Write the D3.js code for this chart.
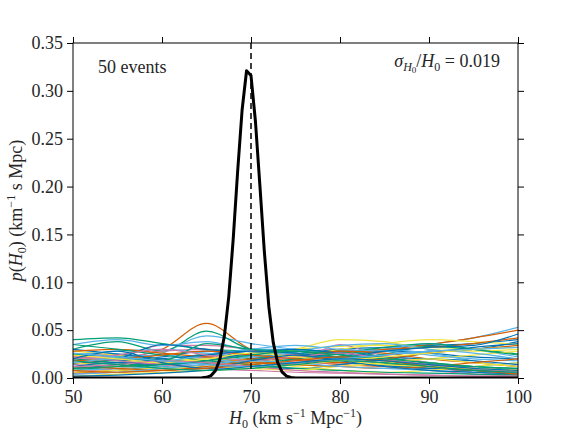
<!DOCTYPE html>
<html><head><meta charset="utf-8">
<script src="https://cdn.jsdelivr.net/npm/d3@7"></script>
<style>body{margin:0;background:#fff}svg{display:block}text{font-family:"Liberation Serif","DejaVu Serif",serif;fill:#262626}</style>
</head><body><svg id="c" width="576" height="432"></svg>
<script>
const xGrid = [50,55,60,65,70,75,80,85,90,95,100];
const palette = ["#0072B2","#009E73","#D55E00","#CC79A7","#F0E442","#56B4E9"];
const eventCurves = [
[0.020,0.025,0.018,0.022,0.030,0.026,0.020,0.024,0.028,0.030,0.038],
[0.040,0.042,0.036,0.030,0.028,0.022,0.018,0.020,0.016,0.012,0.008],
[0.015,0.020,0.030,0.057,0.030,0.022,0.018,0.015,0.012,0.010,0.006],
[0.025,0.024,0.034,0.034,0.030,0.028,0.030,0.024,0.016,0.010,0.005],
[0.008,0.012,0.015,0.020,0.025,0.030,0.033,0.034,0.032,0.030,0.025],
[0.012,0.016,0.026,0.044,0.036,0.030,0.028,0.030,0.035,0.042,0.053],
[0.005,0.008,0.012,0.018,0.020,0.025,0.030,0.032,0.034,0.036,0.040],
[0.030,0.038,0.028,0.049,0.030,0.026,0.020,0.025,0.033,0.030,0.025],
[0.010,0.012,0.015,0.018,0.020,0.025,0.028,0.030,0.035,0.042,0.050],
[0.018,0.020,0.028,0.030,0.022,0.018,0.035,0.020,0.012,0.006,0.003],
[0.020,0.018,0.015,0.012,0.015,0.022,0.030,0.036,0.040,0.038,0.035],
[0.035,0.040,0.034,0.038,0.030,0.030,0.025,0.030,0.036,0.030,0.022],
[0.025,0.018,0.022,0.028,0.020,0.015,0.022,0.028,0.026,0.022,0.020],
[0.012,0.008,0.015,0.025,0.020,0.030,0.025,0.015,0.010,0.008,0.005],
[0.022,0.020,0.018,0.016,0.020,0.018,0.014,0.012,0.010,0.008,0.006],
[0.006,0.010,0.016,0.022,0.028,0.024,0.018,0.012,0.008,0.004,0.002],
[0.028,0.024,0.020,0.018,0.022,0.030,0.040,0.038,0.030,0.028,0.030],
[0.018,0.022,0.024,0.020,0.016,0.020,0.026,0.030,0.026,0.018,0.012],
[0.030,0.025,0.020,0.015,0.012,0.010,0.014,0.020,0.026,0.032,0.036],
[0.008,0.012,0.018,0.015,0.012,0.020,0.028,0.022,0.015,0.010,0.008],
[0.005,0.008,0.010,0.014,0.018,0.022,0.026,0.030,0.032,0.036,0.042],
[0.014,0.016,0.014,0.012,0.014,0.018,0.020,0.018,0.014,0.010,0.008],
[0.010,0.014,0.018,0.020,0.018,0.014,0.012,0.016,0.020,0.024,0.028],
[0.024,0.028,0.030,0.026,0.022,0.026,0.020,0.014,0.010,0.012,0.016],
[0.015,0.020,0.035,0.030,0.025,0.020,0.016,0.013,0.010,0.008,0.006],
[0.020,0.016,0.012,0.010,0.014,0.020,0.026,0.032,0.036,0.030,0.024],
[0.028,0.030,0.026,0.022,0.018,0.022,0.028,0.026,0.020,0.016,0.012],
[0.004,0.006,0.008,0.010,0.012,0.015,0.016,0.018,0.014,0.010,0.006],
[0.016,0.012,0.010,0.012,0.016,0.012,0.008,0.006,0.008,0.012,0.016],
[0.008,0.010,0.012,0.016,0.022,0.028,0.034,0.036,0.030,0.026,0.020],
[0.012,0.016,0.014,0.018,0.026,0.030,0.026,0.022,0.020,0.018,0.014],
[0.035,0.030,0.024,0.018,0.014,0.010,0.008,0.006,0.005,0.004,0.003],
[0.018,0.020,0.024,0.028,0.024,0.020,0.016,0.020,0.026,0.030,0.034],
[0.022,0.018,0.014,0.010,0.008,0.006,0.005,0.004,0.003,0.002,0.002],
[0.006,0.008,0.010,0.012,0.010,0.008,0.012,0.016,0.020,0.016,0.012],
[0.016,0.020,0.018,0.024,0.030,0.034,0.030,0.028,0.024,0.020,0.018],
[0.010,0.014,0.020,0.024,0.028,0.026,0.022,0.028,0.032,0.034,0.046],
[0.025,0.022,0.018,0.036,0.030,0.028,0.022,0.018,0.014,0.012,0.010],
[0.012,0.010,0.008,0.012,0.016,0.014,0.012,0.010,0.012,0.016,0.020],
[0.020,0.024,0.030,0.024,0.018,0.022,0.026,0.020,0.014,0.010,0.008],
[0.024,0.020,0.016,0.020,0.026,0.022,0.018,0.014,0.012,0.010,0.008],
[0.004,0.006,0.010,0.014,0.018,0.016,0.012,0.010,0.008,0.006,0.005],
[0.020,0.028,0.016,0.010,0.018,0.024,0.018,0.012,0.008,0.006,0.004],
[0.010,0.012,0.014,0.018,0.024,0.028,0.024,0.020,0.016,0.012,0.010],
[0.008,0.006,0.008,0.010,0.014,0.018,0.022,0.018,0.012,0.008,0.004],
[0.012,0.014,0.018,0.016,0.012,0.008,0.006,0.004,0.003,0.002,0.001],
[0.002,0.004,0.006,0.008,0.010,0.014,0.018,0.022,0.026,0.030,0.032],
[0.026,0.022,0.018,0.014,0.012,0.016,0.020,0.024,0.028,0.030,0.032],
[0.002,0.003,0.005,0.008,0.012,0.016,0.020,0.018,0.014,0.010,0.008],
[0.018,0.014,0.010,0.008,0.010,0.014,0.018,0.016,0.012,0.008,0.006]
];
const combinedX = [50,64,64.5,65,65.5,66,66.5,67,67.5,68,68.5,69,69.5,70,70.5,71,71.5,72,72.5,73,73.5,74,74.5,75,76,100];
const combinedY = [0,0.00004,0.0002,0.0007,0.0025,0.0075,0.0193,0.0433,0.0848,0.145,0.216,0.280,0.321,0.316,0.268,0.201,0.132,0.075,0.037,0.016,0.0061,0.0020,0.0006,0.0001,0,0];
const trueH0 = 70;
const xTicks = [50,60,70,80,90,100];
const yTicks = [0,0.05,0.10,0.15,0.20,0.25,0.30,0.35];

const svg = d3.select("#c");
const L=73,R=518,T=43,B=378;
const x = d3.scaleLinear().domain([50,100]).range([L,R]);
const y = d3.scaleLinear().domain([0,0.35]).range([B,T]);

svg.append("clipPath").attr("id","clip").append("rect").attr("x",L).attr("y",T).attr("width",R-L).attr("height",B-T);
const g = svg.append("g").attr("clip-path","url(#clip)");
const line = d3.line().x((d,i)=>x(xGrid[i])).y(d=>y(d)).curve(d3.curveMonotoneX);
eventCurves.forEach((c,i)=>{
  g.append("path").attr("d",line(c)).attr("fill","none").attr("stroke",palette[i%palette.length]).attr("stroke-width",1.2);
});
g.append("path").attr("d",d3.line().x((d,i)=>x(combinedX[i])).y(d=>y(d))(combinedY))
  .attr("fill","none").attr("stroke","#000").attr("stroke-width",3).attr("stroke-linejoin","round");
g.append("line").attr("x1",x(trueH0)).attr("x2",x(trueH0)).attr("y1",T).attr("y2",B)
  .attr("stroke","#000").attr("stroke-width",1.5).attr("stroke-dasharray","6,4");

const fmtY = d3.format(".2f");
const axB = svg.append("g").attr("transform",`translate(0,${B})`).call(d3.axisBottom(x).tickValues(xTicks).tickSize(6).tickPadding(6).tickFormat(d3.format("d")));
const axT = svg.append("g").attr("transform",`translate(0,${T})`).call(d3.axisTop(x).tickValues(xTicks).tickSize(6).tickFormat(""));
const axL = svg.append("g").attr("transform",`translate(${L},0)`).call(d3.axisLeft(y).tickValues(yTicks).tickSize(6).tickPadding(4).tickFormat(fmtY));
const axR = svg.append("g").attr("transform",`translate(${R},0)`).call(d3.axisRight(y).tickValues(yTicks).tickSize(6).tickFormat(""));
[axB,axT,axL,axR].forEach(a=>{a.select(".domain").remove();a.selectAll("line").attr("stroke","#000");a.selectAll("text").attr("font-size",18).attr("fill","#333").attr("font-family","Liberation Serif");});
svg.append("rect").attr("x",L).attr("y",T).attr("width",R-L).attr("height",B-T).attr("fill","none").attr("stroke","#000").attr("stroke-width",1);

const xl = svg.append("text").attr("x",(L+R)/2).attr("y",424).attr("text-anchor","middle").attr("font-size",18);
xl.append("tspan").attr("font-style","italic").text("H");
xl.append("tspan").attr("font-size",12).attr("dy",4).text("0");
xl.append("tspan").attr("dy",-4).text(" (km s");
xl.append("tspan").attr("font-size",12).attr("dy",-7).text("−1");
xl.append("tspan").attr("dy",7).text(" Mpc");
xl.append("tspan").attr("font-size",12).attr("dy",-7).text("−1");
xl.append("tspan").attr("dy",7).text(")");

const yl = svg.append("text").attr("transform",`translate(22,${(T+B)/2}) rotate(-90)`).attr("text-anchor","middle").attr("font-size",18);
yl.append("tspan").attr("font-style","italic").text("p");
yl.append("tspan").text("(");
yl.append("tspan").attr("font-style","italic").text("H");
yl.append("tspan").attr("font-size",12).attr("dy",4).text("0");
yl.append("tspan").attr("dy",-4).text(") (km");
yl.append("tspan").attr("font-size",12).attr("dy",-7).text("−1");
yl.append("tspan").attr("dy",7).text(" s Mpc)");

svg.append("text").attr("x",98).attr("y",73).attr("font-size",18).text("50 events");
const st = svg.append("text").attr("x",500).attr("y",67).attr("text-anchor","end").attr("font-size",18);
st.append("tspan").attr("font-style","italic").text("σ");
st.append("tspan").attr("font-style","italic").attr("font-size",12).attr("dy",4).text("H");
st.append("tspan").attr("font-size",9).attr("dy",2).text("0");
st.append("tspan").attr("dy",-6).text("/");
st.append("tspan").attr("font-style","italic").text("H");
st.append("tspan").attr("font-size",12).attr("dy",4).text("0");
st.append("tspan").attr("dy",-4).text(" = 0.019");
</script></body></html>
